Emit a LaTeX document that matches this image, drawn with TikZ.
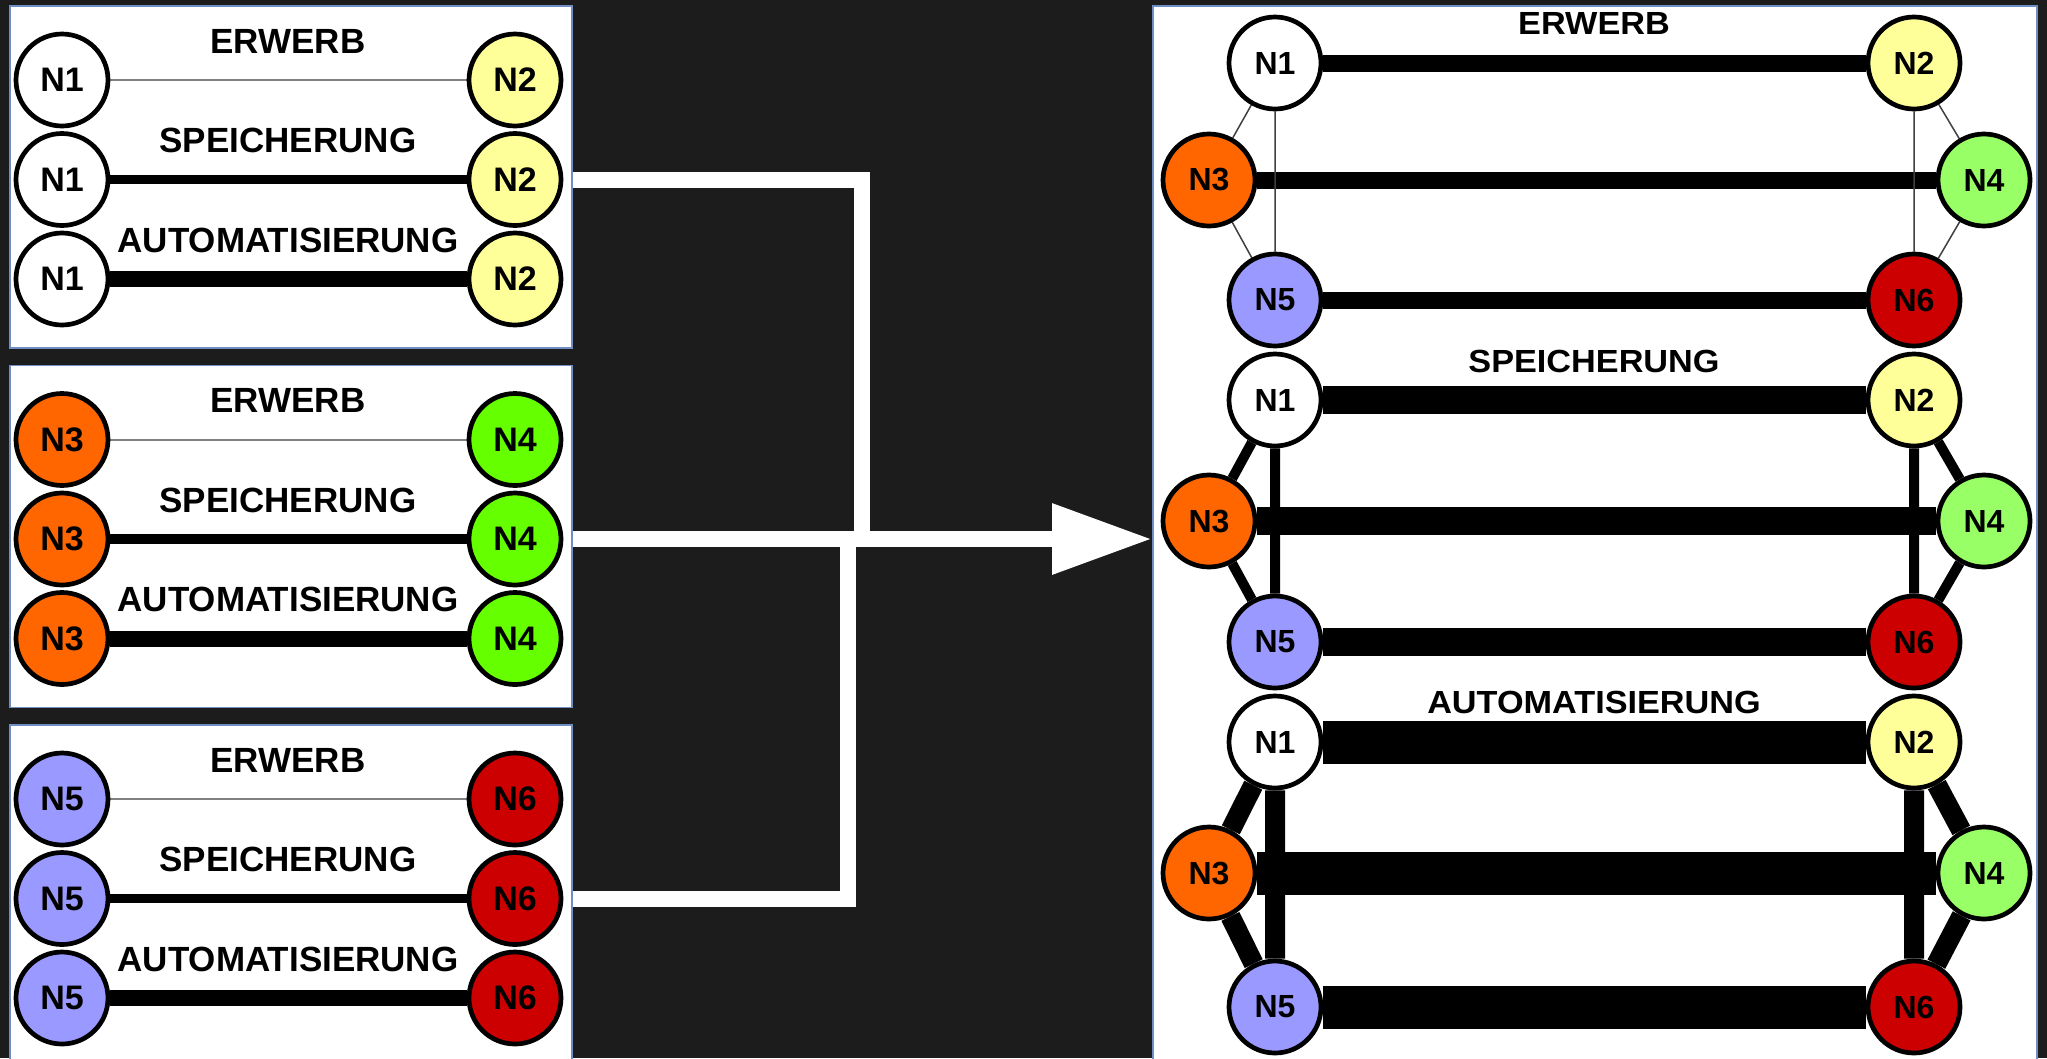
\documentclass[tikz,border=0pt]{standalone}
\usepackage{fontspec}
\setmainfont{Liberation Sans}
\newfontfamily\widesans[FakeStretch=1.07]{Liberation Sans}
\usetikzlibrary{arrows.meta}

\definecolor{bgdark}{HTML}{1C1C1C}
\definecolor{frame}{HTML}{6F8FC4}
\definecolor{cyellow}{HTML}{FFFF99}
\definecolor{corange}{HTML}{FF6600}
\definecolor{cgreen}{HTML}{66FF00}
\definecolor{clgreen}{HTML}{99FF66}
\definecolor{cblue}{HTML}{9999FF}
\definecolor{cred}{HTML}{CC0000}

\pgfdeclarelayer{back}
\pgfdeclarelayer{edges}
\pgfsetlayers{back,edges,main}

\tikzset{
  knot/.style={circle, draw=black, line width=4.7pt, minimum size=92pt, inner sep=0pt,
    font=\bfseries\fontsize{34}{34}\selectfont},
  bigknot/.style={knot, font=\bfseries\fontsize{32}{32}\selectfont},
  phase/.style={inner sep=0pt, font=\bfseries\fontsize{35}{35}\selectfont},
  bigphase/.style={inner sep=0pt, font=\widesans\bfseries\fontsize{32}{32}\selectfont},
  panel/.style={draw=frame, line width=1.5pt, fill=white, anchor=north west, inner sep=0pt},
  bracket/.style={draw=white, line width=16pt},
}

\begin{document}
\begin{tikzpicture}[x=1pt, y=-1pt]
\useasboundingbox (0,0) rectangle (2047,1058);
\begin{pgfonlayer}{back}
  \fill[bgdark] (0,0) rectangle (2047,1058);
  \node[panel, minimum width=884pt, minimum height=1100pt] (rp) at (1152,5) {};
\end{pgfonlayer}

% three small panels, one per pair
\foreach \k/\a/\b/\ca/\cb in {0/1/2/white/cyellow, 1/3/4/corange/cgreen, 2/5/6/cblue/cred} {
  \begin{pgfonlayer}{back}
    \node[panel, minimum width=562pt, minimum height=342pt] (p\k) at (9,{5+359.5*\k}) {};
  \end{pgfonlayer}
  \foreach \r/\lw/\lc/\txt in {0/2pt/gray/ERWERB, 1/9.5pt/black/SPEICHERUNG, 2/16pt/black/AUTOMATISIERUNG} {
    \node[knot, fill=\ca] (a\k\r) at (62,{80+359.5*\k+99.5*\r}) {N\a};
    \node[knot, fill=\cb] (b\k\r) at (515,{80+359.5*\k+99.5*\r}) {N\b};
    \node[phase] (t\k\r) at (288,{41+359.5*\k+99.5*\r}) {\txt};
    \begin{pgfonlayer}{edges}
      \draw[line width=\lw, draw=\lc] (a\k\r) -- (b\k\r);
    \end{pgfonlayer}
  }
}

% merged network, one block per phase
\foreach \s/\ya/\yb/\yc/\ty/\wa/\wb/\wc/\txt in {0/63/180/300/23/17pt/1.5pt/darkgray/ERWERB,
    1/400/521/642/361/28pt/10pt/black/SPEICHERUNG, 2/742/873/1007/702/43pt/20pt/black/AUTOMATISIERUNG} {
  \node[bigknot, fill=white] (m\s1) at (1275,\ya) {N1};
  \node[bigknot, fill=cyellow] (m\s2) at (1914,\ya) {N2};
  \node[bigknot, fill=corange] (m\s3) at (1209,\yb) {N3};
  \node[bigknot, fill=clgreen] (m\s4) at (1984,\yb) {N4};
  \node[bigknot, fill=cblue] (m\s5) at (1275,\yc) {N5};
  \node[bigknot, fill=cred] (m\s6) at (1914,\yc) {N6};
  \node[bigphase] (h\s) at (1594,\ty) {\txt};
  \begin{pgfonlayer}{edges}
    \draw[line width=\wa] (m\s1) -- (m\s2) (m\s3) -- (m\s4) (m\s5) -- (m\s6);
    \draw[line width=\wb, draw=\wc] (m\s1) -- (m\s3) (m\s3) -- (m\s5) (m\s1) -- (m\s5)
      (m\s2) -- (m\s4) (m\s4) -- (m\s6) (m\s2) -- (m\s6);
  \end{pgfonlayer}
}

% white bracket joining the panels
\coordinate (hubtop) at (862,535);
\coordinate (hubbot) at (848,535);
\draw[bracket] (p0.east |- b01) -| (hubtop);
\draw[bracket] (p2.east |- b21) -| (hubbot);
\draw[bracket, -{Triangle[length=100pt, width=67pt]}] (p1.east |- b11) -- (rp.west |- b11);
\end{tikzpicture}
\end{document}
